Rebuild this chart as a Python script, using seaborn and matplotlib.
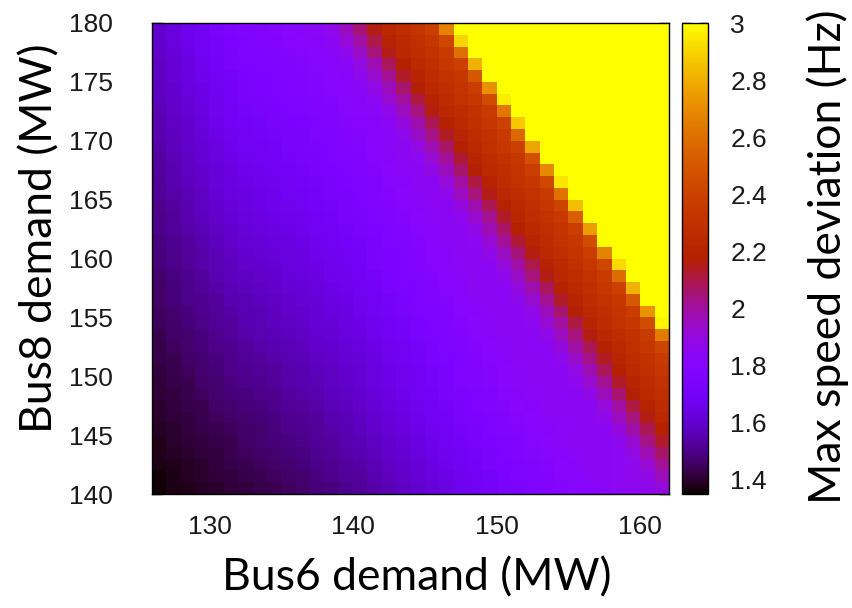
import matplotlib
matplotlib.use("Agg")
import matplotlib.pyplot as plt
import numpy as np
import pandas as pd
import seaborn as sns

# ---------------- data ----------------
# cell centres (MW); cells are 1 MW wide
bus6_mw = [126.5, 127.5, 128.5, 129.5, 130.5, 131.5, 132.5, 133.5, 134.5, 135.5,
           136.5, 137.5, 138.5, 139.5, 140.5, 141.5, 142.5, 143.5, 144.5, 145.5,
           146.5, 147.5, 148.5, 149.5, 150.5, 151.5, 152.5, 153.5, 154.5, 155.5,
           156.5, 157.5, 158.5, 159.5, 160.5, 161.5]
bus8_mw = [179.5, 178.5, 177.5, 176.5, 175.5, 174.5, 173.5, 172.5, 171.5, 170.5,
           169.5, 168.5, 167.5, 166.5, 165.5, 164.5, 163.5, 162.5, 161.5, 160.5,
           159.5, 158.5, 157.5, 156.5, 155.5, 154.5, 153.5, 152.5, 151.5, 150.5,
           149.5, 148.5, 147.5, 146.5, 145.5, 144.5, 143.5, 142.5, 141.5, 140.5]

# max speed deviation (Hz): one list per Bus8 row, Bus6 increasing left -> right
dev_179_5 = [1.60,1.63,1.66,1.69,1.72,1.75,1.77,1.78,1.79,1.81,1.82,1.83,1.87,1.95,2.05,2.16,2.23,2.28,2.32,2.37,2.66,3.0,3.0,3.0,3.0,3.0,3.0,3.0,3.0,3.0,3.0,3.0,3.0,3.0,3.0,3.0]
dev_178_5 = [1.60,1.63,1.66,1.69,1.71,1.74,1.76,1.77,1.78,1.80,1.81,1.82,1.84,1.91,1.99,2.10,2.20,2.25,2.29,2.33,2.42,2.90,3.0,3.0,3.0,3.0,3.0,3.0,3.0,3.0,3.0,3.0,3.0,3.0,3.0,3.0]
dev_177_5 = [1.59,1.62,1.65,1.68,1.71,1.73,1.75,1.76,1.77,1.79,1.80,1.81,1.83,1.87,1.94,2.04,2.15,2.23,2.27,2.31,2.36,2.60,3.0,3.0,3.0,3.0,3.0,3.0,3.0,3.0,3.0,3.0,3.0,3.0,3.0,3.0]
dev_176_5 = [1.58,1.61,1.64,1.67,1.70,1.72,1.74,1.75,1.76,1.78,1.79,1.80,1.82,1.83,1.89,1.97,2.08,2.18,2.25,2.29,2.33,2.39,2.81,3.0,3.0,3.0,3.0,3.0,3.0,3.0,3.0,3.0,3.0,3.0,3.0,3.0]
dev_175_5 = [1.58,1.61,1.63,1.66,1.69,1.71,1.73,1.74,1.75,1.77,1.78,1.79,1.81,1.82,1.86,1.93,2.02,2.13,2.21,2.26,2.30,2.34,2.50,3.0,3.0,3.0,3.0,3.0,3.0,3.0,3.0,3.0,3.0,3.0,3.0,3.0]
dev_174_5 = [1.57,1.60,1.63,1.65,1.68,1.70,1.73,1.74,1.75,1.76,1.77,1.79,1.80,1.82,1.83,1.88,1.96,2.06,2.17,2.24,2.28,2.32,2.37,2.71,3.0,3.0,3.0,3.0,3.0,3.0,3.0,3.0,3.0,3.0,3.0,3.0]
dev_173_5 = [1.57,1.59,1.62,1.65,1.67,1.70,1.72,1.73,1.74,1.75,1.76,1.78,1.79,1.81,1.82,1.85,1.92,2.00,2.11,2.20,2.26,2.30,2.34,2.44,2.96,3.0,3.0,3.0,3.0,3.0,3.0,3.0,3.0,3.0,3.0,3.0]
dev_172_5 = [1.56,1.59,1.61,1.64,1.67,1.69,1.71,1.72,1.73,1.74,1.75,1.77,1.78,1.80,1.81,1.83,1.87,1.95,2.04,2.16,2.23,2.27,2.31,2.36,2.63,3.0,3.0,3.0,3.0,3.0,3.0,3.0,3.0,3.0,3.0,3.0]
dev_171_5 = [1.55,1.58,1.60,1.63,1.66,1.68,1.70,1.71,1.72,1.73,1.74,1.76,1.77,1.79,1.80,1.82,1.84,1.90,1.98,2.09,2.19,2.25,2.29,2.33,2.40,2.87,3.0,3.0,3.0,3.0,3.0,3.0,3.0,3.0,3.0,3.0]
dev_170_5 = [1.55,1.57,1.60,1.62,1.65,1.67,1.69,1.70,1.71,1.72,1.73,1.75,1.76,1.78,1.79,1.81,1.83,1.86,1.94,2.03,2.14,2.22,2.27,2.31,2.35,2.57,3.0,3.0,3.0,3.0,3.0,3.0,3.0,3.0,3.0,3.0]
dev_169_5 = [1.54,1.57,1.59,1.61,1.64,1.66,1.68,1.69,1.70,1.72,1.73,1.74,1.76,1.77,1.79,1.81,1.83,1.84,1.89,1.97,2.07,2.18,2.24,2.29,2.33,2.39,2.78,3.0,3.0,3.0,3.0,3.0,3.0,3.0,3.0,3.0]
dev_168_5 = [1.53,1.56,1.58,1.61,1.63,1.65,1.67,1.68,1.69,1.71,1.72,1.73,1.75,1.76,1.78,1.80,1.82,1.84,1.85,1.92,2.01,2.12,2.21,2.26,2.30,2.34,2.47,3.0,3.0,3.0,3.0,3.0,3.0,3.0,3.0,3.0]
dev_167_5 = [1.53,1.55,1.58,1.60,1.62,1.64,1.66,1.67,1.68,1.70,1.71,1.72,1.74,1.75,1.77,1.79,1.81,1.83,1.84,1.88,1.96,2.06,2.17,2.24,2.28,2.32,2.37,2.69,3.0,3.0,3.0,3.0,3.0,3.0,3.0,3.0]
dev_166_5 = [1.52,1.55,1.57,1.59,1.62,1.64,1.65,1.66,1.67,1.69,1.70,1.71,1.73,1.74,1.76,1.78,1.80,1.82,1.84,1.84,1.91,2.00,2.11,2.20,2.26,2.30,2.34,2.43,2.94,3.0,3.0,3.0,3.0,3.0,3.0,3.0]
dev_165_5 = [1.52,1.54,1.56,1.58,1.61,1.63,1.64,1.65,1.66,1.68,1.69,1.70,1.72,1.73,1.75,1.77,1.79,1.81,1.83,1.84,1.87,1.95,2.04,2.15,2.23,2.27,2.31,2.36,2.61,3.0,3.0,3.0,3.0,3.0,3.0,3.0]
dev_164_5 = [1.51,1.53,1.55,1.58,1.60,1.62,1.64,1.65,1.66,1.67,1.68,1.70,1.71,1.73,1.74,1.76,1.78,1.80,1.82,1.84,1.84,1.90,1.98,2.09,2.19,2.25,2.29,2.33,2.41,2.84,3.0,3.0,3.0,3.0,3.0,3.0]
dev_163_5 = [1.50,1.52,1.55,1.57,1.59,1.61,1.63,1.64,1.65,1.66,1.67,1.69,1.70,1.72,1.73,1.75,1.77,1.79,1.81,1.83,1.84,1.86,1.93,2.02,2.13,2.22,2.27,2.31,2.35,2.53,3.0,3.0,3.0,3.0,3.0,3.0]
dev_162_5 = [1.50,1.52,1.54,1.56,1.58,1.60,1.62,1.63,1.64,1.65,1.66,1.68,1.69,1.71,1.72,1.74,1.76,1.78,1.80,1.82,1.84,1.84,1.88,1.97,2.07,2.18,2.24,2.28,2.32,2.38,2.75,3.0,3.0,3.0,3.0,3.0]
dev_161_5 = [1.49,1.51,1.53,1.55,1.57,1.59,1.61,1.62,1.63,1.64,1.65,1.67,1.68,1.70,1.71,1.73,1.75,1.77,1.79,1.81,1.83,1.84,1.85,1.92,2.01,2.12,2.21,2.26,2.30,2.34,2.45,3.0,3.0,3.0,3.0,3.0]
dev_160_5 = [1.48,1.50,1.52,1.54,1.56,1.58,1.60,1.61,1.62,1.63,1.64,1.66,1.67,1.69,1.70,1.72,1.74,1.76,1.78,1.80,1.82,1.84,1.84,1.88,1.95,2.05,2.16,2.24,2.28,2.32,2.37,2.67,3.0,3.0,3.0,3.0]
dev_159_5 = [1.48,1.50,1.52,1.54,1.56,1.57,1.59,1.60,1.61,1.63,1.64,1.65,1.67,1.68,1.70,1.72,1.74,1.76,1.78,1.80,1.82,1.84,1.84,1.84,1.91,1.99,2.10,2.20,2.25,2.29,2.33,2.42,2.91,3.0,3.0,3.0]
dev_158_5 = [1.47,1.49,1.51,1.53,1.55,1.57,1.58,1.59,1.60,1.62,1.63,1.64,1.66,1.67,1.69,1.71,1.73,1.75,1.77,1.79,1.81,1.83,1.84,1.84,1.87,1.94,2.04,2.15,2.23,2.27,2.31,2.36,2.59,3.0,3.0,3.0]
dev_157_5 = [1.46,1.48,1.50,1.52,1.54,1.56,1.57,1.58,1.59,1.61,1.62,1.63,1.65,1.66,1.68,1.70,1.72,1.74,1.76,1.78,1.80,1.82,1.84,1.84,1.84,1.90,1.98,2.08,2.19,2.25,2.29,2.33,2.39,2.81,3.0,3.0]
dev_156_5 = [1.46,1.48,1.50,1.51,1.53,1.55,1.56,1.57,1.58,1.60,1.61,1.62,1.64,1.65,1.67,1.69,1.71,1.73,1.75,1.77,1.79,1.81,1.83,1.84,1.84,1.86,1.93,2.02,2.13,2.21,2.26,2.30,2.34,2.51,3.0,3.0]
dev_155_5 = [1.45,1.47,1.49,1.51,1.52,1.54,1.55,1.56,1.57,1.59,1.60,1.61,1.63,1.64,1.66,1.68,1.70,1.72,1.74,1.76,1.78,1.80,1.82,1.84,1.84,1.84,1.88,1.96,2.06,2.17,2.24,2.28,2.32,2.37,2.72,3.0]
dev_154_5 = [1.45,1.46,1.48,1.50,1.52,1.53,1.55,1.56,1.57,1.58,1.59,1.61,1.62,1.64,1.65,1.67,1.69,1.71,1.73,1.75,1.77,1.79,1.81,1.83,1.84,1.84,1.85,1.92,2.00,2.11,2.21,2.26,2.30,2.34,2.45,2.98]
dev_153_5 = [1.44,1.46,1.47,1.49,1.51,1.52,1.54,1.55,1.56,1.57,1.58,1.60,1.61,1.63,1.64,1.66,1.68,1.70,1.72,1.74,1.76,1.78,1.80,1.82,1.84,1.84,1.84,1.87,1.95,2.04,2.16,2.23,2.27,2.31,2.36,2.64]
dev_152_5 = [1.43,1.45,1.47,1.48,1.50,1.51,1.53,1.54,1.55,1.56,1.57,1.59,1.60,1.62,1.63,1.65,1.67,1.69,1.71,1.73,1.75,1.77,1.79,1.81,1.83,1.84,1.84,1.84,1.90,1.99,2.09,2.19,2.25,2.29,2.33,2.41]
dev_151_5 = [1.43,1.44,1.46,1.47,1.49,1.50,1.52,1.53,1.54,1.55,1.56,1.58,1.59,1.61,1.62,1.64,1.66,1.68,1.70,1.72,1.74,1.76,1.78,1.80,1.82,1.84,1.84,1.84,1.87,1.94,2.03,2.14,2.22,2.27,2.31,2.36]
dev_150_5 = [1.42,1.44,1.45,1.47,1.48,1.50,1.51,1.52,1.53,1.54,1.55,1.57,1.58,1.60,1.61,1.63,1.65,1.67,1.69,1.71,1.73,1.75,1.77,1.79,1.81,1.83,1.84,1.84,1.84,1.89,1.97,2.08,2.18,2.25,2.29,2.33]
dev_149_5 = [1.41,1.43,1.44,1.46,1.47,1.49,1.50,1.51,1.52,1.54,1.55,1.56,1.58,1.59,1.61,1.63,1.65,1.67,1.69,1.71,1.73,1.75,1.77,1.79,1.81,1.83,1.84,1.84,1.84,1.86,1.93,2.02,2.13,2.21,2.26,2.30]
dev_148_5 = [1.41,1.42,1.44,1.45,1.47,1.48,1.49,1.50,1.51,1.53,1.54,1.55,1.57,1.58,1.60,1.62,1.64,1.66,1.68,1.70,1.72,1.74,1.76,1.78,1.80,1.82,1.83,1.84,1.84,1.84,1.88,1.96,2.06,2.17,2.24,2.28]
dev_147_5 = [1.40,1.42,1.43,1.44,1.46,1.47,1.48,1.49,1.50,1.52,1.53,1.54,1.56,1.57,1.59,1.61,1.63,1.65,1.67,1.69,1.71,1.73,1.75,1.77,1.79,1.81,1.82,1.84,1.84,1.84,1.84,1.91,2.00,2.11,2.20,2.26]
dev_146_5 = [1.40,1.41,1.42,1.44,1.45,1.46,1.47,1.48,1.49,1.51,1.52,1.53,1.55,1.56,1.58,1.60,1.62,1.64,1.66,1.68,1.70,1.72,1.74,1.76,1.78,1.80,1.81,1.83,1.84,1.84,1.84,1.87,1.95,2.04,2.15,2.23]
dev_145_5 = [1.39,1.40,1.42,1.43,1.44,1.45,1.46,1.47,1.48,1.50,1.51,1.52,1.54,1.55,1.57,1.59,1.61,1.63,1.65,1.67,1.69,1.71,1.73,1.75,1.77,1.79,1.80,1.82,1.83,1.84,1.84,1.84,1.90,1.99,2.09,2.19]
dev_144_5 = [1.38,1.40,1.41,1.42,1.43,1.44,1.46,1.47,1.48,1.49,1.50,1.52,1.53,1.55,1.56,1.58,1.60,1.62,1.64,1.66,1.68,1.70,1.72,1.74,1.76,1.78,1.80,1.81,1.83,1.84,1.84,1.84,1.86,1.93,2.03,2.13]
dev_143_5 = [1.38,1.39,1.40,1.41,1.42,1.44,1.45,1.46,1.47,1.48,1.49,1.51,1.52,1.54,1.55,1.57,1.59,1.61,1.63,1.65,1.67,1.69,1.71,1.73,1.75,1.77,1.79,1.80,1.82,1.83,1.84,1.84,1.85,1.89,1.97,2.07]
dev_142_5 = [1.37,1.38,1.39,1.40,1.42,1.43,1.44,1.45,1.46,1.47,1.48,1.50,1.51,1.53,1.54,1.56,1.58,1.60,1.62,1.64,1.66,1.68,1.70,1.72,1.74,1.76,1.78,1.79,1.81,1.82,1.84,1.84,1.85,1.86,1.92,2.01]
dev_141_5 = [1.36,1.37,1.39,1.40,1.41,1.42,1.43,1.44,1.45,1.46,1.47,1.49,1.50,1.52,1.53,1.55,1.57,1.59,1.61,1.63,1.65,1.67,1.69,1.71,1.73,1.75,1.77,1.78,1.80,1.81,1.83,1.84,1.85,1.86,1.88,1.96]
dev_140_5 = [1.36,1.37,1.38,1.39,1.40,1.41,1.42,1.43,1.44,1.45,1.46,1.48,1.49,1.51,1.52,1.54,1.56,1.58,1.60,1.62,1.64,1.66,1.68,1.70,1.72,1.74,1.76,1.77,1.79,1.80,1.82,1.83,1.85,1.86,1.87,1.91]

dev_rows = [dev_179_5, dev_178_5, dev_177_5, dev_176_5, dev_175_5, dev_174_5,
            dev_173_5, dev_172_5, dev_171_5, dev_170_5, dev_169_5, dev_168_5,
            dev_167_5, dev_166_5, dev_165_5, dev_164_5, dev_163_5, dev_162_5,
            dev_161_5, dev_160_5, dev_159_5, dev_158_5, dev_157_5, dev_156_5,
            dev_155_5, dev_154_5, dev_153_5, dev_152_5, dev_151_5, dev_150_5,
            dev_149_5, dev_148_5, dev_147_5, dev_146_5, dev_145_5, dev_144_5,
            dev_143_5, dev_142_5, dev_141_5, dev_140_5]

x_ticks = [130, 140, 150, 160]
y_ticks = [140, 145, 150, 155, 160, 165, 170, 175, 180]
cbar_ticks = [1.4, 1.6, 1.8, 2.0, 2.2, 2.4, 2.6, 2.8, 3.0]
cbar_ticklabels = ["1.4", "1.6", "1.8", "2", "2.2", "2.4", "2.6", "2.8", "3"]
c_min, c_max = 1.35, 3.0

# ---------------- plotting ----------------
sns.set_theme(style="white")
plt.rcParams["font.family"] = ["Liberation Sans", "DejaVu Sans"]

df = pd.DataFrame(dev_rows, index=bus8_mw, columns=bus6_mw)

W, H = 852, 608
fig = plt.figure(figsize=(W / 100, H / 100), dpi=100)
L, R, T, B = 152, 669, 23, 494
ax = fig.add_axes([L / W, 1 - B / H, (R - L) / W, (B - T) / H])
cax = fig.add_axes([682 / W, 1 - B / H, 26 / W, (B - T) / H])

sns.heatmap(df, ax=ax, cbar_ax=cax, cmap="gnuplot", vmin=c_min, vmax=c_max,
            xticklabels=False, yticklabels=False, linewidths=0)

step_x = bus6_mw[1] - bus6_mw[0]
step_y = bus8_mw[0] - bus8_mw[1]
x_lo = bus6_mw[0] - step_x / 2
y_hi = bus8_mw[0] + step_y / 2

ax.set_xticks([(v - x_lo) / step_x for v in x_ticks])
ax.set_xticklabels([str(v) for v in x_ticks])
ax.set_yticks([(y_hi - v) / step_y for v in y_ticks])
ax.set_yticklabels([str(v) for v in y_ticks], rotation=0)
ax.set_xlabel("")
ax.set_ylabel("")

for sp in ax.spines.values():
    sp.set_visible(True)
    sp.set_color("black")
    sp.set_linewidth(1.0)

ax.tick_params(axis="x", direction="in", top=True, bottom=True, length=7,
               width=1, color="black", labelsize=19, pad=15, labelcolor="#1a1a1a")
ax.tick_params(axis="y", direction="in", left=True, right=True, length=7,
               width=1, color="black", labelsize=19, pad=28, labelcolor="#1a1a1a")

cb = ax.collections[0].colorbar
cb.set_ticks(cbar_ticks)
cb.set_ticklabels(cbar_ticklabels)
cb.outline.set_visible(True)
cb.outline.set_linewidth(1.0)
cb.outline.set_edgecolor("black")
cax.tick_params(direction="in", left=True, right=True, length=6, width=1,
                color="black", labelsize=19, pad=16, labelcolor="#1a1a1a")

lab_font = ["Lato", "DejaVu Sans"]
fig.text(417 / W, 1 - 578 / H, "Bus6 demand (MW)", ha="center", va="center",
         fontsize=32, family=lab_font, color="black")
fig.text(40 / W, 1 - 238 / H, "Bus8 demand (MW)", ha="center", va="center",
         rotation=90, fontsize=32, family=lab_font, color="black")
fig.text(828 / W, 1 - 257 / H, "Max speed deviation (Hz)", ha="center", va="center",
         rotation=90, fontsize=32, family=lab_font, color="black")

fig.savefig("out.png", dpi=100)
